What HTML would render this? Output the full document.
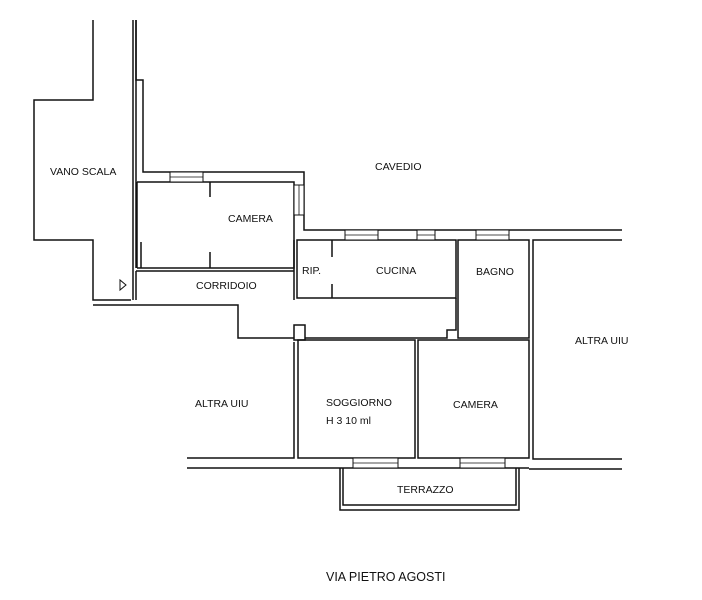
<!DOCTYPE html>
<html><head><meta charset="utf-8"><style>
html,body{margin:0;padding:0;background:#fff;}
svg{display:block}
text{font-family:"Liberation Sans",sans-serif;font-size:10.5px;fill:#111;}
</style></head><body>
<svg width="702" height="600" viewBox="0 0 702 600" xmlns="http://www.w3.org/2000/svg">
<g fill="none" stroke="#111" stroke-width="1.5">
<polyline points="93,20 93,100 34,100 34,240 93,240 93,300 131,300"/>
<line x1="133" y1="20" x2="133" y2="300"/>
<line x1="136" y1="20" x2="136" y2="268"/>
<polyline points="136,20 136,80 143,80 143,172 304,172 304,230 622,230"/>
<polyline points="137,182 294,182 294,268 137,268"/>
<line x1="137" y1="182" x2="137" y2="268"/>
<line x1="141" y1="242" x2="141" y2="268"/>
<line x1="210" y1="182" x2="210" y2="197"/>
<line x1="210" y1="252" x2="210" y2="268"/>
<polyline points="136,271 294,271"/>
<polyline points="136,271 136,300"/>
<polyline points="93,305 238,305 238,338 294,338"/>
<rect x="297" y="240" width="159" height="58"/>
<line x1="332" y1="240" x2="332" y2="257"/>
<line x1="332" y1="284" x2="332" y2="298"/>
<line x1="294" y1="240" x2="294" y2="300"/>
<polyline points="456,298 456,330 447,330 447,338 305,338"/>
<rect x="458" y="240" width="71" height="98"/>
<polyline points="622,240 533,240 533,459 622,459"/>
<line x1="529" y1="469" x2="622" y2="469"/>
<rect x="298" y="340" width="117" height="118"/>
<rect x="418" y="340" width="111" height="118"/>
<polyline points="294,342 294,458 187,458"/>
<rect x="294" y="325" width="11" height="15"/>
<line x1="187" y1="468" x2="529" y2="468"/>
<polyline points="340,468 340,510 519,510 519,468"/>
<polyline points="343,468 343,505 516,505 516,468"/>
</g>
<g fill="#fff" stroke="#111" stroke-width="1">
<rect x="170" y="172" width="33" height="10"/>
<rect x="294" y="185" width="10" height="30"/>
<rect x="345" y="230" width="33" height="10"/>
<rect x="417" y="230" width="18" height="10"/>
<rect x="476" y="230" width="33" height="10"/>
<rect x="353" y="458" width="45" height="10"/>
<rect x="460" y="458" width="45" height="10"/>
</g>
<g stroke="#111" stroke-width="0.8">
<line x1="170" y1="177" x2="203" y2="177"/>
<line x1="299" y1="185" x2="299" y2="215"/>
<line x1="345" y1="235" x2="378" y2="235"/>
<line x1="417" y1="235" x2="435" y2="235"/>
<line x1="476" y1="235" x2="509" y2="235"/>
<line x1="353" y1="463" x2="398" y2="463"/>
<line x1="460" y1="463" x2="505" y2="463"/>
</g>
<polygon points="120,280 120,290 126,285" fill="none" stroke="#111" stroke-width="1"/>
<text x="50" y="175">VANO SCALA</text>
<text x="375" y="170">CAVEDIO</text>
<text x="228" y="222">CAMERA</text>
<text x="196" y="289">CORRIDOIO</text>
<text x="302" y="274">RIP.</text>
<text x="376" y="274">CUCINA</text>
<text x="476" y="275">BAGNO</text>
<text x="575" y="344">ALTRA UIU</text>
<text x="195" y="407">ALTRA UIU</text>
<text x="326" y="406">SOGGIORNO</text>
<text x="326" y="424">H 3 10 ml</text>
<text x="453" y="408">CAMERA</text>
<text x="397" y="493">TERRAZZO</text>
<text x="326" y="581" style="font-size:12.5px">VIA PIETRO AGOSTI</text>
</svg>
</body></html>
